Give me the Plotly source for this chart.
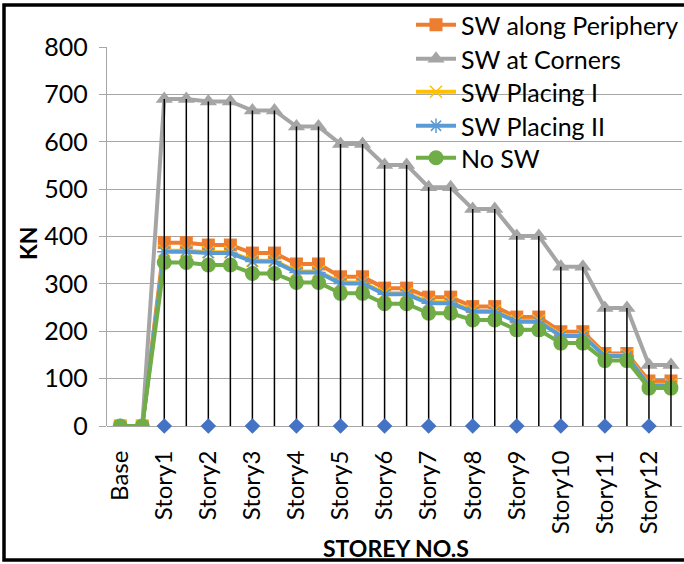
import plotly.graph_objects as go

# ---- data ----
story_labels = ["Base", "Story1", "Story2", "Story3", "Story4", "Story5", "Story6",
                "Story7", "Story8", "Story9", "Story10", "Story11", "Story12"]
# two points per storey (26 points), labels shown on every second point
point_index = list(range(26))

sw_periphery = [0, 0, 387, 387, 382, 382, 365, 365, 342, 342, 315, 315, 291, 291,
                272, 272, 252, 252, 230, 230, 199, 199, 153, 153, 95, 95]
sw_corners = [0, 0, 690, 690, 685, 685, 666, 666, 632, 632, 595, 595, 551, 551,
              504, 504, 458, 458, 401, 401, 336, 336, 249, 249, 129, 129]
sw_placing1 = [0, 0, 370, 370, 367, 367, 349, 349, 326, 326, 303, 303, 280, 280,
               261, 261, 243, 243, 222, 222, 192, 192, 150, 150, 87, 87]
sw_placing2 = [0, 0, 368, 368, 365, 365, 347, 347, 324, 324, 301, 301, 278, 278,
               259, 259, 241, 241, 220, 220, 190, 190, 148, 148, 85, 85]
no_sw = [0, 0, 345, 345, 340, 340, 322, 322, 303, 303, 280, 280, 258, 258,
         238, 238, 224, 224, 203, 203, 175, 175, 138, 138, 80, 80]
# extra (unlabelled) series: zero markers at each storey label
storey_marks = [None, None, 0, None, 0, None, 0, None, 0, None, 0, None, 0, None,
                0, None, 0, None, 0, None, 0, None, 0, None, 0, None]

FONT = "Lato"
W, H = 684, 564
ML, MR, MT, MB = 107, 2, 47, 138
PW, PH = W - ML - MR, H - MT - MB


def px_x(px):
    return (px - ML) / PW


def px_y(py):
    return (H - MB - py) / PH


fig = go.Figure()

series = [
    ("SW along Periphery", sw_periphery, "#ED7D31", dict(symbol="square", size=13)),
    ("SW at Corners", sw_corners, "#A5A5A5", dict(symbol="triangle-up", size=15)),
    ("SW Placing I", sw_placing1, "#FFC000", dict(symbol="x-thin", size=12, line=dict(width=1.5, color="#FFC000"))),
    ("SW Placing II", sw_placing2, "#5B9BD5", dict(symbol="asterisk", size=12, line=dict(width=1.5, color="#5B9BD5"))),
    ("No SW", no_sw, "#70AD47", dict(symbol="circle", size=15)),
]
legend_rows = [25, 59, 92, 126, 158]
legend_layout = {}
for i, (name, vals, col, mk) in enumerate(series):
    lname = "legend" if i == 0 else f"legend{i + 1}"
    fig.add_trace(go.Scatter(
        x=point_index, y=vals, name=name, mode="lines+markers",
        line=dict(color=col, width=4), marker=dict(color=col, **mk),
        legend=lname))
    legend_layout[lname] = dict(x=px_x(411), y=px_y(legend_rows[i]),
                                xanchor="left", yanchor="middle",
                                bgcolor="rgba(0,0,0,0)", font=dict(size=25),
                                itemwidth=40)

# drop lines from highest point down to the axis
all_series = [sw_periphery, sw_corners, sw_placing1, sw_placing2, no_sw]
dx, dy = [], []
for i in point_index:
    top = max(s[i] for s in all_series)
    if top > 0:
        dx += [i, i, None]
        dy += [0, top, None]
fig.add_trace(go.Scatter(x=dx, y=dy, mode="lines", line=dict(color="black", width=1.5),
                         showlegend=False, hoverinfo="skip"))

fig.add_trace(go.Scatter(x=point_index, y=storey_marks, mode="markers",
                         marker=dict(symbol="diamond", size=12, color="#4472C4"),
                         showlegend=False, cliponaxis=False))

fig.update_layout(
    width=W, height=H,
    margin=dict(l=ML, r=MR, t=MT, b=MB, autoexpand=False),
    paper_bgcolor="white", plot_bgcolor="white",
    font=dict(family=FONT, size=24, color="black"),
    showlegend=True,
    xaxis=dict(range=[-0.6, 25.5], tickmode="array",
               tickvals=point_index[::2], ticktext=story_labels,
               tickangle=-90, showgrid=False, zeroline=False, showline=False,
               ticks="outside", ticklen=14, tickcolor="rgba(0,0,0,0)",
               tickfont=dict(size=24)),
    yaxis=dict(range=[0, 800], tickvals=list(range(0, 801, 100)),
               showgrid=True, gridcolor="#A6A6A6", gridwidth=1.3,
               zeroline=True, zerolinecolor="#A6A6A6", zerolinewidth=1.3,
               showline=True, linecolor="#A6A6A6", linewidth=1.3,
               ticks="outside", ticklen=7, tickcolor="#A6A6A6",
               ticklabelstandoff=6,
               tickfont=dict(size=25)),
    **legend_layout,
)

# axis titles
fig.add_annotation(text="<b>KN</b>", x=px_x(28), y=px_y(243),
                   xref="paper", yref="paper", showarrow=False, textangle=-90,
                   xanchor="center", yanchor="middle",
                   font=dict(size=23, family=FONT))
fig.add_annotation(text="<b>STOREY NO.S</b>", x=px_x(396), y=px_y(548),
                   xref="paper", yref="paper", showarrow=False,
                   xanchor="center", yanchor="middle",
                   font=dict(size=23, family=FONT))

# outer border
fig.add_shape(type="rect", xref="paper", yref="paper",
              x0=px_x(4), x1=px_x(W + 10),
              y0=px_y(560), y1=px_y(5),
              line=dict(color="black", width=3.5), layer="above")

fig.write_html("out.html", config={"displayModeBar": False},
               post_script="document.body.style.margin='0';document.body.style.overflow='hidden';")
